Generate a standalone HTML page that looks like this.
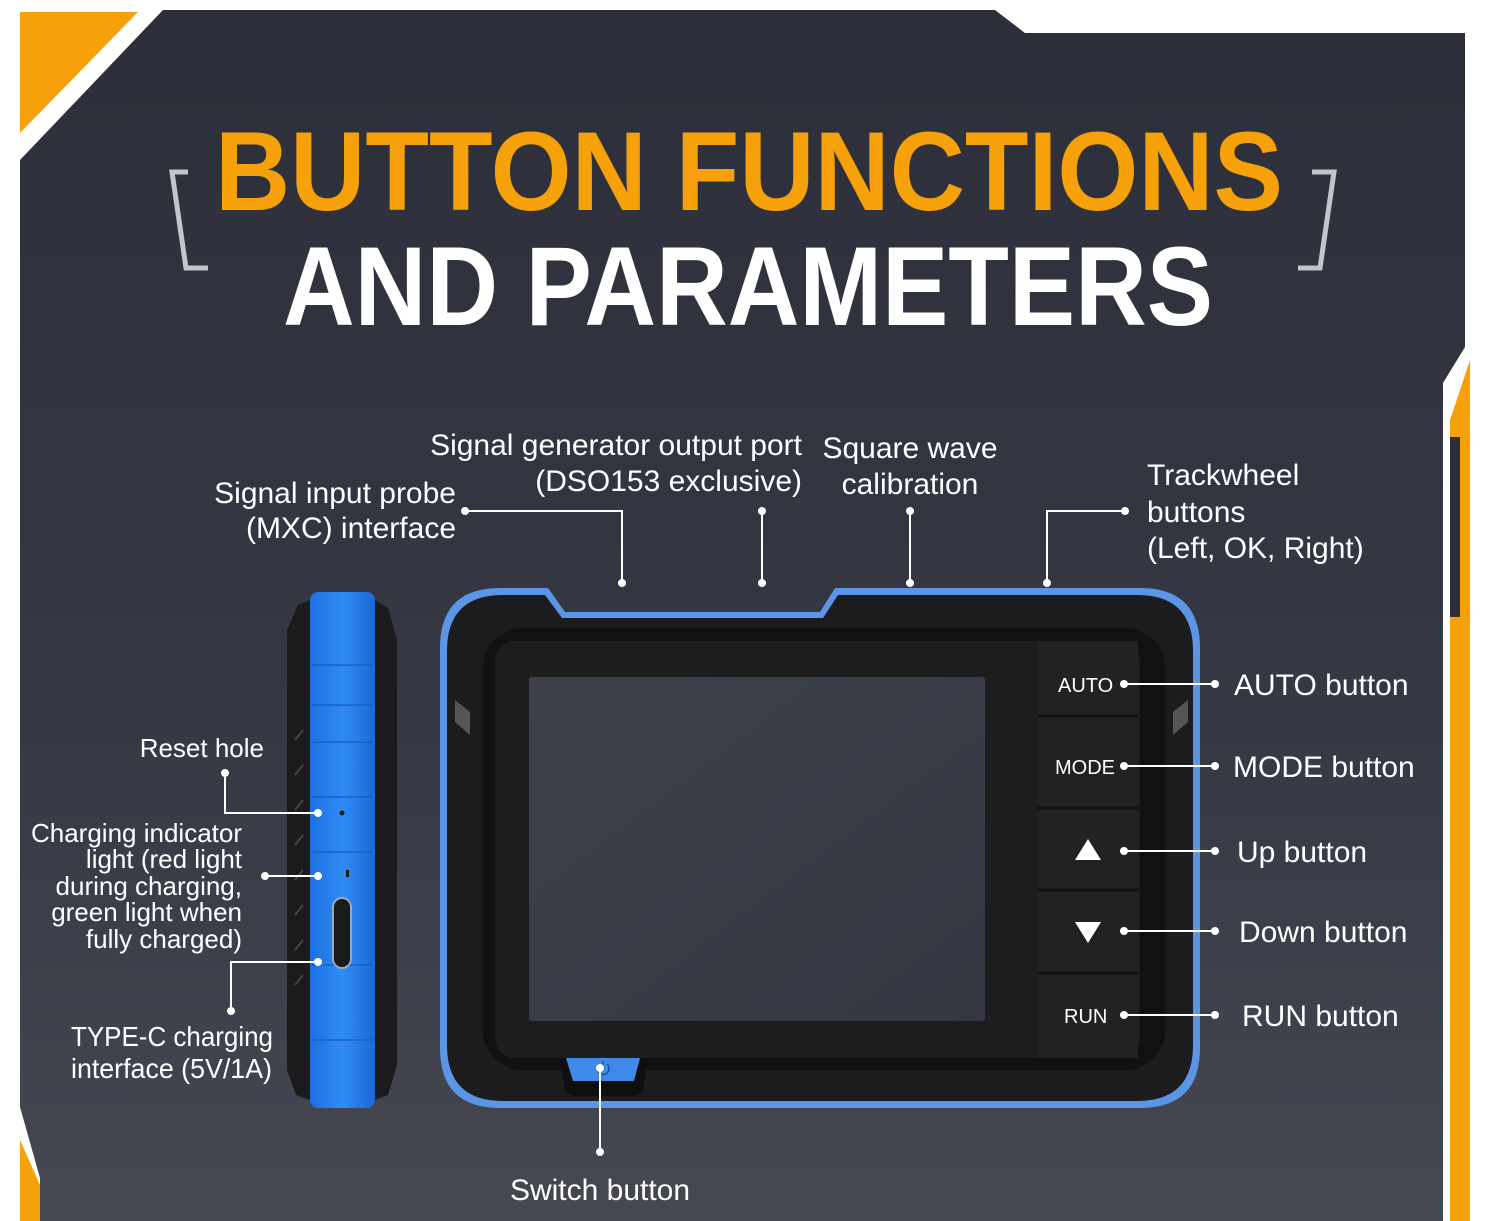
<!DOCTYPE html>
<html><head><meta charset="utf-8"><style>
html,body{margin:0;padding:0;background:#fff;}
svg{display:block;}
text{font-family:"Liberation Sans",sans-serif;}
</style></head><body>
<svg width="1495" height="1221" viewBox="0 0 1495 1221" xmlns="http://www.w3.org/2000/svg">
<defs>
<linearGradient id="bg" x1="0" y1="0" x2="0" y2="1">
<stop offset="0" stop-color="#2c2e39"/><stop offset="0.6" stop-color="#363944"/><stop offset="1" stop-color="#454851"/>
</linearGradient>
<linearGradient id="scr" x1="0" y1="0" x2="1" y2="1">
<stop offset="0" stop-color="#3d4049"/><stop offset="1" stop-color="#353842"/>
</linearGradient>
<linearGradient id="blue" x1="0" y1="0" x2="1" y2="0">
<stop offset="0" stop-color="#1f6fe0"/><stop offset="0.5" stop-color="#2f8cf5"/><stop offset="1" stop-color="#1d68d6"/>
</linearGradient>
</defs>
<!-- panel -->
<polygon points="20,160 163,10 995,10 1025,33 1465,33 1465,347 1443,383 1443,1221 40,1221 40,1178 20,1107" fill="url(#bg)"/>
<polygon points="20,12 138,12 20,133" fill="#f7a10a"/>
<polygon points="1450,420 1470,360 1470,1221 1450,1221" fill="#f7a10a"/>
<rect x="1450" y="437" width="10" height="180" fill="#2c2e39"/>
<polygon points="20,1140 40,1185 40,1221 20,1221" fill="#f7a10a"/>
<!-- title brackets -->
<polyline points="188,172 172,172 186,268 208,268" fill="none" stroke="#c3c5cb" stroke-width="5"/>
<polyline points="1312,172 1334,172 1320,268 1298,268" fill="none" stroke="#c3c5cb" stroke-width="5"/>
<text x="215" y="210" font-size="112" font-weight="bold" fill="#f7a10a" textLength="1068" lengthAdjust="spacingAndGlyphs">BUTTON FUNCTIONS</text>
<text x="283" y="325" font-size="112" font-weight="bold" fill="#ffffff" textLength="930" lengthAdjust="spacingAndGlyphs">AND PARAMETERS</text>

<!-- side view device -->
<path d="M298,605 L310,600 L310,1100 L296,1095 L287,1070 L287,630 Z" fill="#1b1b1d"/>
<path d="M375,600 L388,608 L397,640 L397,1065 L388,1095 L375,1100 Z" fill="#1b1b1d"/>
<rect x="310" y="592" width="65" height="516" rx="8" fill="url(#blue)"/>
<g stroke="#1a5fc4" stroke-width="2" opacity="0.7">
<line x1="312" y1="665" x2="373" y2="665"/><line x1="312" y1="705" x2="373" y2="705"/>
<line x1="312" y1="742" x2="373" y2="742"/><line x1="312" y1="797" x2="373" y2="797"/>
<line x1="312" y1="852" x2="373" y2="852"/><line x1="312" y1="965" x2="373" y2="965"/>
<line x1="312" y1="1040" x2="373" y2="1040"/>
</g>
<g stroke="#444" stroke-width="2">
<line x1="295" y1="740" x2="303" y2="730"/><line x1="295" y1="775" x2="303" y2="765"/>
<line x1="295" y1="810" x2="303" y2="800"/><line x1="295" y1="845" x2="303" y2="835"/>
<line x1="295" y1="880" x2="303" y2="870"/><line x1="295" y1="915" x2="303" y2="905"/>
<line x1="295" y1="950" x2="303" y2="940"/><line x1="295" y1="985" x2="303" y2="975"/>
</g>
<circle cx="342" cy="813" r="2.5" fill="#1a1a1a"/>
<rect x="346" y="870" width="3" height="7" fill="#1a1a1a"/>
<rect x="333" y="898" width="18" height="70" rx="9" fill="#1a1a1a" stroke="#9ab" stroke-width="2"/>

<!-- front device -->
<path d="M500,588 L548,588 L565,612 L820,612 L835,588 L1140,588 Q1200,588 1200,648 L1200,1048 Q1200,1108 1140,1108 L500,1108 Q440,1108 440,1048 L440,648 Q440,588 500,588 Z" fill="#5b95e6"/>
<path d="M503,595 L545,595 L562,618 L823,618 L838,595 L1137,595 Q1193,595 1193,651 L1193,1045 Q1193,1101 1137,1101 L503,1101 Q447,1101 447,1045 L447,651 Q447,595 503,595 Z" fill="#1c1c1e"/>
<rect x="483" y="628" width="682" height="442" rx="40" fill="#111113"/>
<rect x="495" y="641" width="645" height="417" rx="20" fill="#1d1d20"/>
<rect x="529" y="677" width="456" height="344" rx="3" fill="url(#scr)"/>
<rect x="1038" y="641" width="100" height="417" fill="#222225"/>
<g stroke="#111" stroke-width="3">
<line x1="1038" y1="716" x2="1138" y2="716"/><line x1="1038" y1="808" x2="1138" y2="808"/>
<line x1="1038" y1="890" x2="1138" y2="890"/><line x1="1038" y1="973" x2="1138" y2="973"/>
</g>
<polygon points="455,700 470,712 470,735 455,722" fill="#555"/>
<polygon points="1188,700 1173,712 1173,735 1188,722" fill="#555"/>
<path d="M560,1058 L648,1058 L643,1090 Q640,1096 630,1096 L578,1096 Q568,1096 565,1090 Z" fill="#0f0f10"/>
<path d="M566,1058 L640,1058 L634,1081 L573,1081 Z" fill="#3f8ae8"/>
<path d="M599,1064 A6,6 0 1,0 607,1064" fill="none" stroke="#1a4fa0" stroke-width="1.5"/>
<line x1="603" y1="1061" x2="603" y2="1069" stroke="#1a4fa0" stroke-width="1.5"/>
<g fill="#fff" font-size="20">
<text x="1058" y="692">AUTO</text>
<text x="1055" y="774">MODE</text>
<text x="1064" y="1023">RUN</text>
</g>
<polygon points="1088,839 1101,860 1075,860" fill="#fff"/>
<polygon points="1075,922 1101,922 1088,943" fill="#fff"/>

<!-- connectors -->
<g stroke="#fff" stroke-width="2" fill="none">
<polyline points="465,511 622,511 622,583"/>
<line x1="762" y1="511" x2="762" y2="583"/>
<line x1="910" y1="511" x2="910" y2="583"/>
<polyline points="1125,511 1047,511 1047,583"/>
<line x1="1124" y1="684" x2="1215" y2="684"/>
<line x1="1124" y1="766" x2="1215" y2="766"/>
<line x1="1124" y1="851" x2="1215" y2="851"/>
<line x1="1124" y1="931" x2="1215" y2="931"/>
<line x1="1124" y1="1015" x2="1215" y2="1015"/>
<polyline points="225,773 225,813 318,813"/>
<line x1="265" y1="876" x2="318" y2="876"/>
<polyline points="318,962 231,962 231,1011"/>
<line x1="600" y1="1068" x2="600" y2="1152"/>
</g>
<g fill="#fff">
<circle cx="465" cy="511" r="4"/><circle cx="622" cy="583" r="4"/>
<circle cx="762" cy="511" r="4"/><circle cx="762" cy="583" r="4"/>
<circle cx="910" cy="511" r="4"/><circle cx="910" cy="583" r="4"/>
<circle cx="1125" cy="511" r="4"/><circle cx="1047" cy="583" r="4"/>
<circle cx="1124" cy="684" r="4"/><circle cx="1215" cy="684" r="4"/>
<circle cx="1124" cy="766" r="4"/><circle cx="1215" cy="766" r="4"/>
<circle cx="1124" cy="851" r="4"/><circle cx="1215" cy="851" r="4"/>
<circle cx="1124" cy="931" r="4"/><circle cx="1215" cy="931" r="4"/>
<circle cx="1124" cy="1015" r="4"/><circle cx="1215" cy="1015" r="4"/>
<circle cx="225" cy="773" r="4"/><circle cx="318" cy="813" r="4"/>
<circle cx="265" cy="876" r="4"/><circle cx="318" cy="876" r="4"/>
<circle cx="318" cy="962" r="4"/><circle cx="231" cy="1011" r="4"/>
<circle cx="600" cy="1068" r="4"/><circle cx="600" cy="1152" r="4"/>
</g>

<!-- labels -->
<g fill="#fff" font-size="30">
<text x="456" y="503" text-anchor="end">Signal input probe</text>
<text x="456" y="538" text-anchor="end">(MXC) interface</text>
<text x="802" y="455" text-anchor="end">Signal generator output port</text>
<text x="802" y="491" text-anchor="end">(DSO153 exclusive)</text>
<text x="910" y="458" text-anchor="middle">Square wave</text>
<text x="910" y="494" text-anchor="middle">calibration</text>
<text x="1147" y="485">Trackwheel</text>
<text x="1147" y="522">buttons</text>
<text x="1147" y="558">(Left, OK, Right)</text>
<text x="1234" y="695">AUTO button</text>
<text x="1233" y="777">MODE button</text>
<text x="1237" y="862">Up button</text>
<text x="1239" y="942">Down button</text>
<text x="1242" y="1026">RUN button</text>
<text x="600" y="1200" text-anchor="middle">Switch button</text>
</g>
<g fill="#fff" font-size="26">
<text x="264" y="757" text-anchor="end">Reset hole</text>
<text x="242" y="842" text-anchor="end">Charging indicator</text>
<text x="242" y="868" text-anchor="end">light (red light</text>
<text x="242" y="895" text-anchor="end">during charging,</text>
<text x="242" y="921" text-anchor="end">green light when</text>
<text x="242" y="948" text-anchor="end">fully charged)</text>
<text x="71" y="1046" font-size="28" textLength="202" lengthAdjust="spacingAndGlyphs">TYPE-C charging</text>
<text x="71" y="1078" font-size="28" textLength="201" lengthAdjust="spacingAndGlyphs">interface (5V/1A)</text>
</g>
</svg>
</body></html>
